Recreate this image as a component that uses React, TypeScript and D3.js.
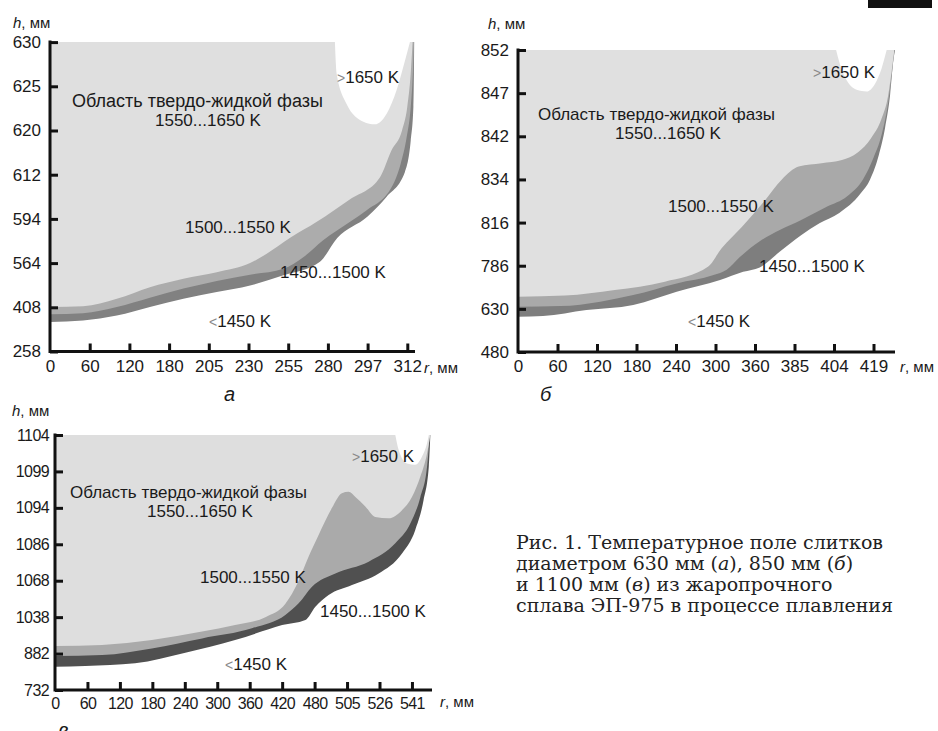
import React, { useEffect, useRef } from "react";
import * as d3 from "d3";

type Pt = [number, number];

// ---- panel а: ingot 630 mm
const rTicksA = [0, 60, 120, 180, 205, 230, 255, 280, 297, 312];
const hTicksA = [258, 408, 564, 594, 612, 620, 625, 630];
const edge1450A: Pt[] = [[0,358],[50,363],[101,380],[151,409],[189,438],[210,462],[231,485],[252,521],[275,565],[284,581],[297,595],[304.2,603],[311.1,612.5],[313.3,618.2],[314.3,622.7],[314.5,626.5],[314.6,630]];
const edge1500A: Pt[] = [[0,384],[50,388],[101,409],[151,442],[189,474],[210,501],[231,523],[252,544],[264.5,568],[277,579.5],[289.5,592],[296.6,597.5],[306.1,607],[309.5,614],[311.8,618.9],[313.3,622.7],[314.1,626.5],[314.5,630]];
const edge1550A: Pt[] = [[0,409],[50,412],[101,438],[151,479],[189,509],[210,532],[231,564],[241,570],[256,581],[273,592],[289.5,602],[301.7,611],[306,616.4],[310,620],[312,622.7],[313.3,626.5],[314,630]];
const edge1650A: Pt[] = [[283,630],[283.7,626.5],[288,623],[295.2,621],[299.8,620.7],[304.2,621.9],[308,624.6],[310.5,627.2],[313,630]];

// ---- panel б: ingot 850 mm
const rTicksB = [0, 60, 120, 180, 240, 300, 360, 385, 404, 419];
const hTicksB = [480, 630, 786, 816, 834, 842, 847, 852];
const edge1450B: Pt[] = [[0,603],[38,605],[104,626],[175,644],[241,692],[307,734],[342,764],[363,780],[376,796],[388,807],[397,815.5],[406,820],[414,828],[417.7,834],[421,838.5],[423.4,843],[425.3,846.8],[426.5,850.7],[427.2,852]];
const edge1500B: Pt[] = [[0,638],[64,640],[125,656],[175,680],[241,722],[297,752],[317,771],[337,792],[363,803],[376,811],[388,817],[400.5,822.6],[409,827],[415,834],[419,838],[422.1,842.2],[424.6,846],[426.2,849.9],[426.9,852]];
const edge1550B: Pt[] = [[0,674],[71,678],[147,698],[223,728],[289,783],[309,798],[340,813],[366,825],[377,834],[387,836.4],[398,837],[407,837.6],[413,839],[418,841.6],[422,844],[424.6,846.8],[426.2,850.3],[426.9,852]];
const edge1650B: Pt[] = [[404.8,852],[406.3,850.3],[408.8,848.5],[412.6,847.4],[416.4,847.2],[419.6,848.1],[422.1,849.9],[424,852]];

// ---- panel в: ingot 1100 mm
const rTicksV = [0, 60, 120, 180, 240, 300, 360, 420, 480, 505, 526, 541];
const hTicksV = [732, 882, 1038, 1068, 1086, 1094, 1099, 1104];
const edge1450V: Pt[] = [[0,828],[56,831],[148,842],[241,886],[333,940],[395,986],[420,1004],[463,1026],[480.6,1046.6],[490.8,1056.2],[508.2,1064.5],[525.5,1071.6],[536.4,1081.5],[542.5,1089.1],[546.4,1095.1],[548.8,1099.7],[549.5,1104]];
const edge1500V: Pt[] = [[0,872],[87,876],[179,904],[272,947],[364,990],[425.9,1039.8],[450.5,1049.4],[475.2,1063.1],[496,1071.6],[519,1077.4],[533.3,1086.2],[540.3,1090.6],[544.9,1095.5],[548,1099.7],[549.2,1104]];
const edge1550V: Pt[] = [[0,914],[87,919],[179,940],[272,976],[333,1004],[389,1038],[426,1049],[450.5,1068],[469,1080],[483,1088],[493.4,1094],[501,1096],[506,1096.2],[510.4,1095.5],[516.8,1094.2],[523.3,1092],[530.2,1091.7],[536.4,1093.5],[541,1095.5],[544.9,1098.3],[548,1101.5],[549.5,1104]];
const edge1650V: Pt[] = [[533.3,1104],[534.9,1101.9],[538.7,1100.1],[542.5,1099.9],[545.6,1101],[548,1102.9],[548.8,1104]];

const zoneLabels = ["Область твердо-жидкой фазы", "1550...1650 K", "1500...1550 K", "1450...1500 K", "1650 K", "1450 K"];
const captionLines = [
  [["Рис. 1. Температурное поле слитков", false]],
  [["диаметром 630 мм (", false], ["а", true], ["), 850 мм (", false], ["б", true], [")", false]],
  [["и 1100 мм (", false], ["в", true], [") из жаропрочного", false]],
  [["сплава ЭП-975 в процессе плавления", false]],
] as [string, boolean][][];

const SANS = "'Liberation Sans', Arial, Helvetica, sans-serif";

const panels = [
  {
    rTicks: rTicksA, hTicks: hTicksA, edges: [edge1450A, edge1500A, edge1550A, edge1650A],
    x0: 50, xStep: 39.7, xEnd: 415, yBottom: 351.5, yStep: 44.2,
    fills: ["#818181", "#acacac", "#dfdfdf", "#ffffff"],
    tickFont: 17, yPad: 9, spacing: 0,
    pos: [[72, 107, 18], [155, 126, 17], [185, 233, 17], [280, 278, 17], [337, 83, 17], [209, 327, 17]],
    letter: ["а", 224, 401], hLab: [13, 28], rLab: [424, 373],
  },
  {
    rTicks: rTicksB, hTicks: hTicksB, edges: [edge1450B, edge1500B, edge1550B, edge1650B],
    x0: 518, xStep: 39.5, xEnd: 895, yBottom: 352, yStep: 43.14,
    fills: ["#7e7e7e", "#a9a9a9", "#e0e0e0", "#ffffff"],
    tickFont: 17, yPad: 9, spacing: 0,
    pos: [[538, 120, 17], [615, 139, 17], [668, 212, 17], [759, 272, 17], [813, 78, 17], [688, 327, 17]],
    letter: ["б", 540, 401], hLab: [488, 29], rLab: [900, 372],
  },
  {
    rTicks: rTicksV, hTicks: hTicksV, edges: [edge1450V, edge1500V, edge1550V, edge1650V],
    x0: 55, xStep: 32.45, xEnd: 432, yBottom: 690, yStep: 36.43,
    fills: ["#505050", "#aaaaaa", "#dedede", "#ffffff"],
    tickFont: 16, yPad: 6, spacing: -0.6,
    pos: [[70, 498, 17], [147, 517, 17], [200, 583, 17], [320, 617, 17], [352, 462, 17], [225, 670, 17]],
    letter: ["в", 58, 737], hLab: [12, 416], rLab: [440, 707],
  },
];

export default function App() {
  const svgRef = useRef<SVGSVGElement>(null);

  useEffect(() => {
    const svg = d3.select(svgRef.current);
    svg.selectAll("*").remove();

    panels.forEach((p) => {
      const g = svg.append("g");
      const x = d3.scaleLinear().domain(p.rTicks).range(p.rTicks.map((_, i) => p.x0 + i * p.xStep));
      const y = d3.scaleLinear().domain(p.hTicks).range(p.hTicks.map((_, i) => p.yBottom - i * p.yStep));
      const hTop = p.hTicks[p.hTicks.length - 1];

      // zones, back to front: 1450..1500, 1500..1550, 1550..1650, >1650
      const area = d3.area<Pt>()
        .x((d) => x(d[0]))
        .y0(y(hTop))
        .y1((d) => y(d[1]))
        .curve(d3.curveMonotoneX);
      p.edges.forEach((e, i) => {
        g.append("path").attr("d", area(e)).attr("fill", p.fills[i]);
      });

      // zone labels
      p.pos.forEach(([lx, ly, fs], i) => {
        const t = g.append("text").attr("x", lx).attr("y", ly)
          .attr("font-family", SANS).attr("font-size", fs).attr("fill", "#1a1a1a");
        if (i === 4) t.append("tspan").attr("fill", "#8a8a8a").attr("font-size", fs - 3).text(">");
        if (i === 5) t.append("tspan").attr("fill", "#8a8a8a").attr("font-size", fs - 3).text("<");
        t.append("tspan").text(zoneLabels[i]);
      });

      // axes
      const yAxis = d3.axisLeft(y).tickValues(p.hTicks).tickFormat(d3.format("d"))
        .tickSizeInner(-8).tickSizeOuter(0).tickPadding(p.yPad);
      const xAxis = d3.axisBottom(x).tickValues(p.rTicks).tickFormat(d3.format("d"))
        .tickSizeInner(-8).tickSizeOuter(0).tickPadding(8);

      const gy = g.append("g").attr("transform", `translate(${p.x0},0)`).call(yAxis);
      const gx = g.append("g").attr("transform", `translate(0,${p.yBottom})`).call(xAxis);
      [gx, gy].forEach((ax) => {
        ax.select(".domain").remove();
        ax.selectAll(".tick line").attr("stroke", "#111").attr("stroke-width", 3);
        ax.selectAll(".tick text").attr("font-family", SANS).attr("font-size", p.tickFont)
          .attr("fill", "#1a1a1a").attr("letter-spacing", p.spacing);
      });
      gx.selectAll(".tick").filter((d) => d === 0).select("line").remove();

      g.append("line").attr("x1", p.x0).attr("x2", p.x0)
        .attr("y1", y(hTop) - 1.5).attr("y2", p.yBottom + 1.5)
        .attr("stroke", "#111").attr("stroke-width", 3);
      g.append("line").attr("x1", p.x0).attr("x2", p.xEnd)
        .attr("y1", p.yBottom).attr("y2", p.yBottom)
        .attr("stroke", "#111").attr("stroke-width", 3);

      // axis titles
      const hl = g.append("text").attr("x", p.hLab[0]).attr("y", p.hLab[1])
        .attr("font-family", SANS).attr("font-size", 15).attr("fill", "#1a1a1a");
      hl.append("tspan").attr("font-style", "italic").text("h");
      hl.append("tspan").text(", мм");
      const rl = g.append("text").attr("x", p.rLab[0]).attr("y", p.rLab[1])
        .attr("font-family", SANS).attr("font-size", 15).attr("fill", "#1a1a1a");
      rl.append("tspan").attr("font-style", "italic").text("r");
      rl.append("tspan").text(", мм");

      g.append("text").attr("x", p.letter[1]).attr("y", p.letter[2])
        .attr("font-family", SANS).attr("font-style", "italic").attr("font-size", 20)
        .attr("fill", "#1a1a1a").text(p.letter[0] as string);
    });

    // caption
    const cap = svg.append("text").attr("font-family", "'DejaVu Serif', serif")
      .attr("font-size", 19).attr("fill", "#222");
    captionLines.forEach((line, i) => {
      const row = cap.append("tspan").attr("x", 516).attr("y", 549 + i * 21);
      line.forEach(([s, it]) => {
        const t = row.append("tspan").text(s);
        if (it) t.attr("font-style", "italic");
      });
    });

    // scan artefact at the top-right corner
    svg.append("rect").attr("x", 868).attr("y", 0).attr("width", 64).attr("height", 8).attr("fill", "#111");
  }, []);

  return (
    <svg
      ref={svgRef}
      width={938}
      height={731}
      style={{ position: "absolute", left: 0, top: 0, background: "#fff" }}
    />
  );
}
